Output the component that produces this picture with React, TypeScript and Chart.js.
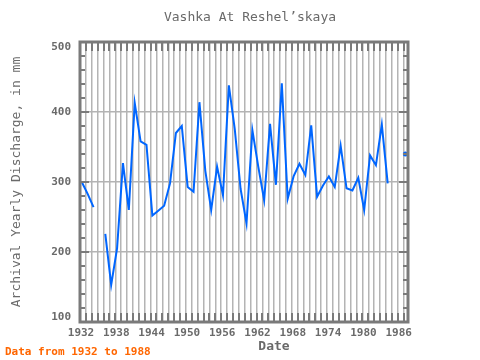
import { useEffect, useRef } from "react";
import { Chart, registerables } from "chart.js";

Chart.register(...registerables);

// ---- data ----
const years = [
  1932, 1933, 1934, 1935, 1936, 1937, 1938, 1939, 1940, 1941,
  1942, 1943, 1944, 1945, 1946, 1947, 1948, 1949, 1950, 1951,
  1952, 1953, 1954, 1955, 1956, 1957, 1958, 1959, 1960, 1961,
  1962, 1963, 1964, 1965, 1966, 1967, 1968, 1969, 1970, 1971,
  1972, 1973, 1974, 1975, 1976, 1977, 1978, 1979, 1980, 1981,
  1982, 1983, 1984, 1985, 1986, 1987,
];
const discharge: (number | null)[] = [
  300, 283, 264, null, 226, 153, 205, 327, 260, 413,
  358, 353, 252, 259, 266, 298, 370, 380, 293, 286,
  414, 316, 260, 322, 281, 438, 376, 290, 241, 374,
  322, 274, 383, 296, 441, 276, 308, 326, 310, 381,
  279, 295, 308, 293, 352, 291, 288, 306, 260, 338,
  324, 382, 298, null, null, 340,
];
const xTickLabels = [1932, 1938, 1944, 1950, 1956, 1962, 1968, 1974, 1980, 1986];
const yTickLabels = [100, 200, 300, 400, 500];

const TITLE = "Vashka At Reshel\u2019skaya";
const X_TITLE = "Date";
const Y_TITLE = "Archival Yearly Discharge, in mm";
const FOOTER = "Data from 1932 to 1988";

// ---- styling ----
const X_MIN = 1932;
const X_MAX = 1987.75;
const DATE_OFFSET = 0.3;
const Y_MIN = 100;
const Y_MAX = 500;
const Y_MINOR = 20;
const FONT = "'DejaVu Sans Mono', monospace";
const AXIS_COLOR = "#7a7a7a";
const TEXT_COLOR = "#6a6a6a";
const GRID_COLOR = "#b4b4b4";
const LINE_COLOR = "#0066ff";

const decoPlugin = {
  id: "deco",
  afterDraw(chart: any) {
    const { ctx, chartArea: a, scales } = chart;
    const x = scales.x;
    const y = scales.y;
    ctx.save();

    const seg = (x1: number, y1: number, x2: number, y2: number) => {
      ctx.beginPath();
      ctx.moveTo(x1, y1);
      ctx.lineTo(x2, y2);
      ctx.stroke();
    };

    ctx.strokeStyle = AXIS_COLOR;
    // y minor/major ticks (inside, both sides)
    ctx.lineWidth = 2;
    for (let v = Y_MIN; v <= Y_MAX; v += Y_MINOR) {
      const py = Math.round(y.getPixelForValue(v));
      const len = v % 100 === 0 ? 9 : 5;
      seg(a.left, py, a.left + len, py);
      seg(a.right - len, py, a.right, py);
    }
    // x ticks every year (inside, top and bottom)
    ctx.lineWidth = 2;
    for (let yr = Math.ceil(X_MIN); yr <= X_MAX; yr++) {
      const px = Math.round(x.getPixelForValue(yr));
      seg(px, a.top, px, a.top + 9);
      seg(px, a.bottom - 9, px, a.bottom);
    }
    // frame
    ctx.lineWidth = 3;
    ctx.strokeRect(a.left, a.top, a.right - a.left, a.bottom - a.top);

    // tick labels
    ctx.fillStyle = TEXT_COLOR;
    ctx.font = `bold 11px ${FONT}`;
    ctx.textAlign = "right";
    ctx.textBaseline = "middle";
    for (const v of yTickLabels) {
      let py = y.getPixelForValue(v);
      py = Math.min(Math.max(py, a.top + 5), a.bottom - 5);
      ctx.fillText(String(v), a.left - 9, py);
    }
    ctx.textAlign = "center";
    for (const v of xTickLabels) {
      const px = x.getPixelForValue(v);
      ctx.fillText(String(v), px + 1, a.bottom + 11);
    }

    // titles
    ctx.font = `13px ${FONT}`;
    ctx.fillText(TITLE, 250, 18);
    ctx.font = `bold 13px ${FONT}`;
    ctx.fillText(X_TITLE, 274, 347);
    ctx.save();
    ctx.translate(17, 182);
    ctx.rotate(-Math.PI / 2);
    ctx.font = `13px ${FONT}`;
    ctx.fillText(Y_TITLE, 0, 0);
    ctx.restore();

    ctx.fillStyle = "#ff6600";
    ctx.font = `bold 11px ${FONT}`;
    ctx.textAlign = "left";
    ctx.fillText(FOOTER, 5, 352);

    ctx.restore();
  },
};

export default function App() {
  const canvasRef = useRef<HTMLCanvasElement | null>(null);

  useEffect(() => {
    document.body.style.margin = "0";
    const canvas = canvasRef.current;
    if (!canvas) return;
    const points = years.map((yr, i) => ({ x: yr + DATE_OFFSET, y: discharge[i] }));
    const chart = new Chart(canvas, {
      type: "line",
      data: {
        datasets: [
          {
            data: points as any,
            borderColor: LINE_COLOR,
            backgroundColor: LINE_COLOR,
            borderWidth: 2,
            spanGaps: false,
            tension: 0,
            pointRadius: (c: any) => {
              const i = c.dataIndex;
              return discharge[i] != null && discharge[i - 1] == null && discharge[i + 1] == null ? 2.5 : 0;
            },
            pointBorderWidth: 0,
            clip: false as any,
          },
        ],
      },
      plugins: [decoPlugin],
      options: {
        responsive: false,
        animation: false,
        devicePixelRatio: 1,
        layout: { padding: { left: 80, top: 42, right: 72, bottom: 38 } },
        plugins: { legend: { display: false }, tooltip: { enabled: false }, title: { display: false } },
        scales: {
          x: {
            type: "linear",
            min: X_MIN,
            max: X_MAX,
            afterBuildTicks: (s: any) => {
              const t = [];
              for (let yr = Math.ceil(X_MIN); yr <= X_MAX; yr++) t.push({ value: yr });
              s.ticks = t;
            },
            afterFit: (s: any) => {
              s.height = 0;
            },
            ticks: { display: false },
            border: { display: false },
            grid: { color: GRID_COLOR, lineWidth: 1.5, drawTicks: false },
          },
          y: {
            type: "linear",
            min: Y_MIN,
            max: Y_MAX,
            afterBuildTicks: (s: any) => {
              s.ticks = yTickLabels.map((v) => ({ value: v }));
            },
            afterFit: (s: any) => {
              s.width = 0;
            },
            ticks: { display: false },
            border: { display: false },
            grid: { color: GRID_COLOR, lineWidth: 1.5, drawTicks: false },
          },
        },
      },
    });
    return () => chart.destroy();
  }, []);

  return (
    <div style={{ width: 480, height: 360 }}>
      <canvas ref={canvasRef} width={480} height={360} style={{ display: "block" }} />
    </div>
  );
}
